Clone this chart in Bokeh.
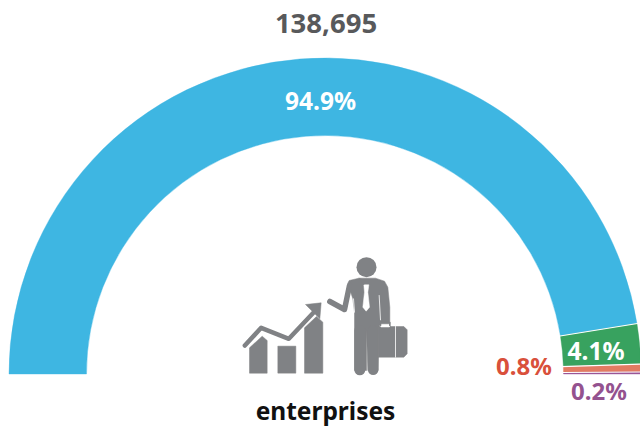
from math import pi, cos, sin
from bokeh.plotting import figure
from bokeh.models import Range1d
from bokeh.core.properties import value
from bokeh.embed import file_html
from bokeh.resources import INLINE

# ---- data ----
total_label = "138,695"
unit_label = "enterprises"
segments = ["large", "medium", "small", "micro"]
shares = [94.9, 4.1, 0.8, 0.2]
share_labels = ["94.9%", "4.1%", "0.8%", "0.2%"]
colors = ["#3EB6E2", "#38A25F", "#E27B62", "#9B5597"]
label_colors = ["#FFFFFF", "#FFFFFF", "#D9503B", "#94528F"]

# ---- layout (page pixels) ----
W, H = 640, 427
def X(px): return px
def Y(py): return H - py
cx, cy = 324.5, 373.5
R_OUT, R_IN = 316, 238.5
FONT = "Noto Sans"

p = figure(width=W, height=H, output_backend="svg", toolbar_location=None,
           x_range=Range1d(0, W), y_range=Range1d(0, H),
           min_border=0, outline_line_color=None)
p.axis.visible = False
p.grid.visible = False
p.background_fill_color = "#FFFFFF"
p.border_fill_color = "#FFFFFF"

tot = sum(shares)
acc = 0.0
bounds = []
for s, c in zip(shares, colors):
    start = pi - pi * acc / tot
    acc += s
    end = pi - pi * acc / tot
    bounds.append(end)
    p.annular_wedge(x=[X(cx)], y=[Y(cy)], inner_radius=R_IN, outer_radius=R_OUT,
                    start_angle=end, end_angle=start, fill_color=c,
                    line_color=c, line_width=0.4)
# white separators between the segments
for a in bounds[:-1]:
    p.segment(x0=[X(cx) + (R_IN - 2) * cos(a)], y0=[Y(cy) + (R_IN - 2) * sin(a)],
              x1=[X(cx) + (R_OUT + 2) * cos(a)], y1=[Y(cy) + (R_OUT + 2) * sin(a)],
              line_color="#FFFFFF", line_width=1.2)

def txt(x, y, s, size, color):
    p.text(x=[X(x)], y=[Y(y)], text=[s], text_font=value(FONT), text_font_size=f"{size}px",
           text_font_style="bold", text_color=color, text_align="center", text_baseline="middle")

txt(325.5, 23, total_label, 27.5, "#58595B")
txt(320, 100, share_labels[0], 24.5, label_colors[0])
txt(595.5, 350, share_labels[1], 24.5, label_colors[1])
txt(523.5, 365, share_labels[2], 24, label_colors[2])
txt(598.5, 390, share_labels[3], 24, label_colors[3])
txt(325, 410, unit_label, 24.5, "#111111")

# ---- icon (decorative, traced in 3x zoom coordinates of a 230,240 crop) ----
GREY = "#808285"
def zx(v): return [X(230 + a / 3) for a in v]
def zy(v): return [Y(240 + a / 3) for a in v]
def poly(xs, ys, color=GREY):
    p.patch(zx(xs), zy(ys), fill_color=color, line_color=color, line_width=0.5)
def path(xs, ys, w, color=GREY):
    p.line(zx(xs), zy(ys), line_color=color, line_width=w, line_join="round", line_cap="round")

poly([57, 95, 110, 110, 57], [322, 287, 300, 398, 398])
poly([142, 196, 196, 142], [317, 317, 398, 398])
poly([222, 258, 277, 277, 222], [262, 228, 245, 398, 398])
path([43, 92, 175, 250], [315, 262, 295, 215], 4.5)
poly([225, 272, 268], [192, 187, 235])
# person
p.circle(x=zx([408]), y=zy([80]), radius=10, fill_color=GREY, line_color=None)
poly([385, 435, 462, 472, 478, 478, 450, 445, 443, 443, 412, 408, 408, 372, 372, 367, 352, 356],
     [113, 113, 122, 140, 200, 250, 250, 260, 380, 390, 390, 270, 390, 390, 215, 175, 128, 120])
path([357, 342, 298], [135, 207, 183], 5.5)
path([388, 388], [270, 388], 11)
path([428, 428], [270, 388], 10.5)
# gap between right arm and torso
path([446, 450], [165, 238], 0.8, "#FFFFFF")
path([369, 372], [175, 215], 0.8, "#FFFFFF")
# tie and collar
poly([400, 415, 412, 417, 407, 397, 402], [133, 133, 155, 200, 212, 200, 155], "#FFFFFF")
poly([385, 405, 400], [113, 120, 133], GREY)
# briefcase
poly([443, 520, 530, 530, 520, 443], [258, 258, 268, 340, 350, 350])
path([495, 495], [258, 350], 0.8, "#FFFFFF")
path([450, 450, 478, 478], [258, 246, 246, 258], 1.6)
path([452, 476], [258, 258], 1.6, "#FFFFFF")

open("out.html", "w").write(file_html(p, INLINE))
